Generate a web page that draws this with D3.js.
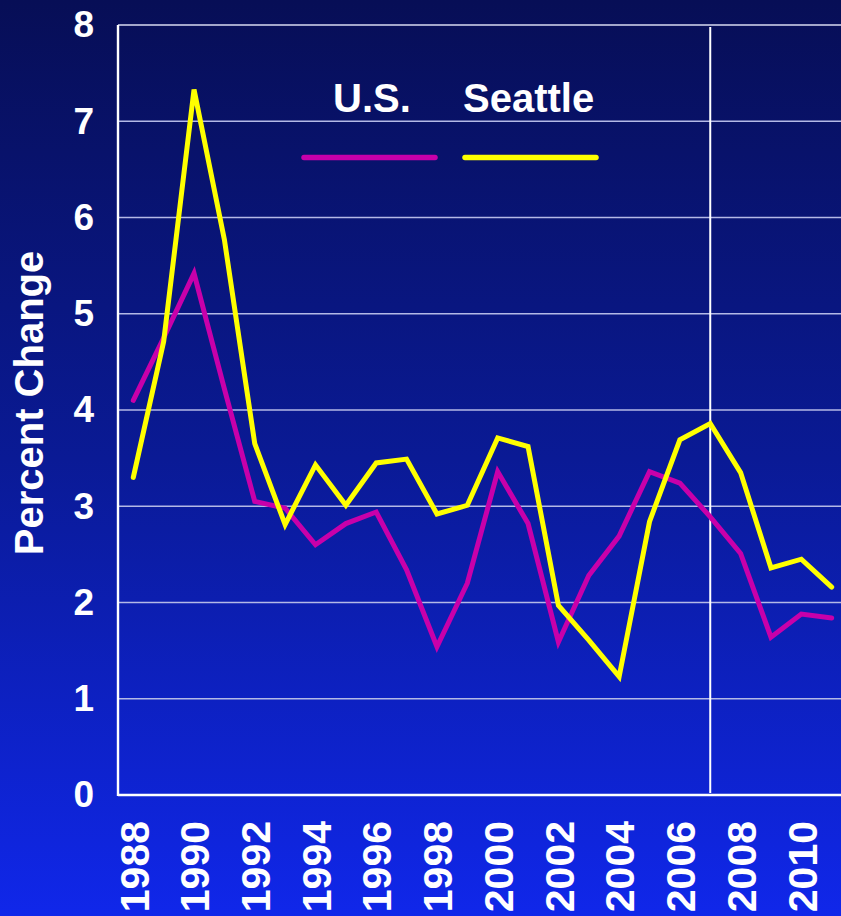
<!DOCTYPE html>
<html>
<head>
<meta charset="utf-8">
<script src="https://cdn.jsdelivr.net/npm/d3@7"></script>
<style>
  body { margin: 0; padding: 0; overflow: hidden; }
  svg { display: block; font-family: "Liberation Sans", Arial, sans-serif; font-weight: bold; }
</style>
</head>
<body>
<svg width="841" height="916"></svg>
<script>
var years = [1988, 1989, 1990, 1991, 1992, 1993, 1994, 1995, 1996, 1997, 1998, 1999,
             2000, 2001, 2002, 2003, 2004, 2005, 2006, 2007, 2008, 2009, 2010, 2011];
var usValues = [4.10, 4.75, 5.42, 4.22, 3.05, 2.98, 2.60, 2.82, 2.94, 2.34, 1.54, 2.20,
                3.36, 2.82, 1.59, 2.28, 2.69, 3.36, 3.24, 2.89, 2.51, 1.64, 1.88, 1.84];
var seattleValues = [3.30, 4.71, 7.33, 5.77, 3.65, 2.81, 3.43, 3.01, 3.45, 3.49, 2.92, 3.01,
                     3.71, 3.62, 1.97, 1.61, 1.23, 2.84, 3.69, 3.86, 3.35, 2.36, 2.45, 2.16];
var yTicks = [0, 1, 2, 3, 4, 5, 6, 7, 8];
var xTicks = [1988, 1990, 1992, 1994, 1996, 1998, 2000, 2002, 2004, 2006, 2008, 2010];
var markerYear = 2007;
var seriesNames = ["U.S.", "Seattle"];
var seriesColors = ["#c800aa", "#ffff00"];

function drawChart() {
  var svg = d3.select("svg"),
      plotLeft = 118,
      plotTop = 25,
      plotBottom = 795,
      plotRight = 841;

  var grad = svg.append("defs").append("linearGradient")
      .attr("id", "bg")
      .attr("x1", 0).attr("y1", 0).attr("x2", 0).attr("y2", 1);
  grad.append("stop").attr("offset", "0%").attr("stop-color", "#070e56");
  grad.append("stop").attr("offset", "50%").attr("stop-color", "#0a1a95");
  grad.append("stop").attr("offset", "100%").attr("stop-color", "#1027ea");

  svg.append("rect")
     .attr("width", 841).attr("height", 916)
     .attr("fill", "url(#bg)");

  var xScale = d3.scaleLinear().domain([1988, 2011]).range([133.3, 831.7]),
      yScale = d3.scaleLinear().domain([0, 8]).range([plotBottom, plotTop]);

  // gridlines
  svg.append("g")
     .selectAll("line")
     .data(yTicks.filter(function(d) { return d > 0; }))
     .enter().append("line")
     .attr("x1", plotLeft).attr("x2", plotRight)
     .attr("y1", function(d) { return yScale(d); })
     .attr("y2", function(d) { return yScale(d); })
     .attr("stroke", function(d) { return d === 8 ? "#d8dbf2" : "#b4b9e6"; })
     .attr("stroke-width", 1.6);

  // y axis
  var yAxis = svg.append("g")
     .attr("transform", "translate(" + plotLeft + ",0)")
     .call(d3.axisLeft(yScale).tickValues(yTicks).tickSize(0).tickPadding(24).tickFormat(d3.format("d")));
  yAxis.select(".domain").remove();
  yAxis.selectAll("text")
     .attr("fill", "#fff")
     .attr("font-size", 37)
     .attr("font-weight", "bold")
     .attr("font-family", "Liberation Sans, Arial, sans-serif");

  // x axis labels
  var xAxis = svg.append("g")
     .attr("transform", "translate(0," + plotBottom + ")")
     .call(d3.axisBottom(xScale).tickValues(xTicks).tickSize(0).tickFormat(d3.format("d")));
  xAxis.select(".domain").remove();
  xAxis.selectAll("text")
     .attr("fill", "#fff")
     .attr("font-size", 41)
     .attr("font-weight", "bold")
     .attr("font-family", "Liberation Sans, Arial, sans-serif")
     .attr("text-anchor", "end")
     .attr("transform", "rotate(-90)")
     .attr("x", -26)
     .attr("y", 0)
     .attr("dy", "0.36em");

  // axis lines
  svg.append("line")
     .attr("x1", plotLeft).attr("x2", plotLeft).attr("y1", plotTop).attr("y2", plotBottom + 1)
     .attr("stroke", "#fff").attr("stroke-width", 2.4);
  svg.append("line")
     .attr("x1", plotLeft).attr("x2", plotRight).attr("y1", plotBottom).attr("y2", plotBottom)
     .attr("stroke", "#fff").attr("stroke-width", 2.4);

  // 2007 marker
  svg.append("line")
     .attr("x1", xScale(markerYear)).attr("x2", xScale(markerYear))
     .attr("y1", plotTop + 2).attr("y2", plotBottom - 2)
     .attr("stroke", "#fff").attr("stroke-width", 2);

  var line = d3.line()
     .x(function(d, i) { return xScale(years[i]); })
     .y(function(d) { return yScale(d); });

  [usValues, seattleValues].forEach(function(vals, k) {
    svg.append("path")
       .datum(vals)
       .attr("d", line)
       .attr("fill", "none")
       .attr("stroke", seriesColors[k])
       .attr("stroke-width", 5)
       .attr("stroke-linejoin", "miter")
       .attr("stroke-linecap", "round");
  });

  // legend
  var legendX = [304, 465];
  seriesNames.forEach(function(name, k) {
    svg.append("line")
       .attr("x1", legendX[k]).attr("x2", legendX[k] + 131)
       .attr("y1", 157.5).attr("y2", 157.5)
       .attr("stroke", seriesColors[k])
       .attr("stroke-width", 5.5)
       .attr("stroke-linecap", "round");
  });
  svg.append("text")
     .attr("x", 333).attr("y", 111.5)
     .attr("fill", "#fff").attr("font-size", 40)
     .text(seriesNames[0]);
  svg.append("text")
     .attr("x", 463).attr("y", 111.5)
     .attr("fill", "#fff").attr("font-size", 40)
     .text(seriesNames[1]);

  svg.append("text")
     .attr("transform", "translate(43,403) rotate(-90)")
     .attr("text-anchor", "middle")
     .attr("fill", "#fff")
     .attr("font-size", 40)
     .text("Percent Change");
}

drawChart();
</script>
</body>
</html>
